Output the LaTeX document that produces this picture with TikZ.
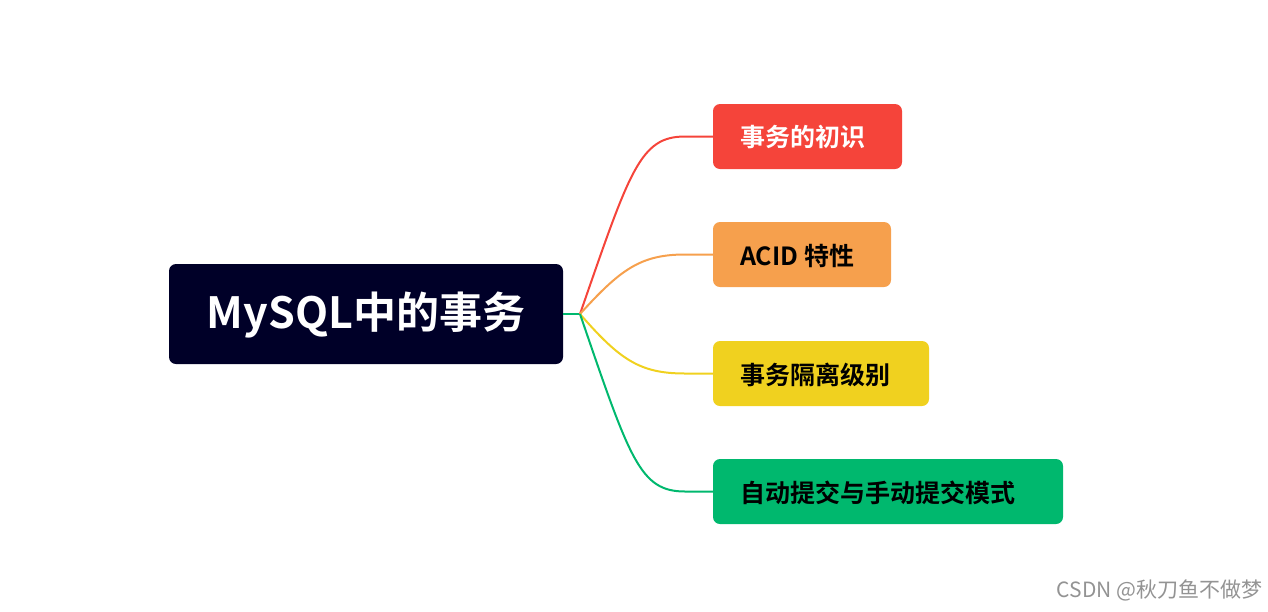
\documentclass[tikz,border=0pt]{standalone}
\usepackage{fontspec}
\setmainfont{Noto Sans CJK SC}
\newfontfamily\cjkb{Noto Sans CJK SC Bold}
\definecolor{navy}{HTML}{000028}
\definecolor{cred}{HTML}{F5443A}
\definecolor{corange}{HTML}{F6A04D}
\definecolor{cyellow}{HTML}{F0D11F}
\definecolor{cgreen}{HTML}{00B86E}
\begin{document}
\begin{tikzpicture}[x=1pt,y=-1pt,
  lbl/.style={inner sep=0pt,font=\cjkb\fontsize{25}{28}\selectfont,anchor=west},
  conn/.style={line width=2pt}]
\useasboundingbox (0,0) rectangle (1268,611);
\fill[navy,rounded corners=7pt] (169,264) rectangle (563,364);
\node[font=\cjkb\fontsize{43}{48}\selectfont,text=white] (root) at (366,315) {MySQL中的事务};
\coordinate (re) at (563,314);
\coordinate (j) at (580,314);
\fill[cred,rounded corners=7pt] (713,104) rectangle (902,169);
\node[lbl,text=white] (a) at (740,137) {事务的初识};
\fill[corange,rounded corners=7pt] (713,222) rectangle (891,287);
\node[lbl] (b) at (740,256) {ACID 特性};
\fill[cyellow,rounded corners=7pt] (713,341) rectangle (929,406);
\node[lbl] (c) at (740,375) {事务隔离级别};
\fill[cgreen,rounded corners=7pt] (713,459) rectangle (1063,524);
\node[lbl] (d) at (740,493) {自动提交与手动提交模式};
\coordinate (ae) at (713,136.5);
\coordinate (be) at (713,254.5);
\coordinate (ce) at (713,373.5);
\coordinate (de) at (713,491.5);
\draw[conn,cgreen] (re) -- (j);
\draw[conn,cred] (j) .. controls (630,170) and (640,136.5) .. (685,136.5) -- (ae);
\draw[conn,corange] (j) .. controls (620,270) and (640,254.5) .. (685,254.5) -- (be);
\draw[conn,cyellow] (j) .. controls (620,360) and (640,373.5) .. (685,373.5) -- (ce);
\draw[conn,cgreen] (j) .. controls (630,460) and (640,491.5) .. (685,491.5) -- (de);
\node[anchor=east,text=gray!85,font=\fontsize{21}{24}\selectfont] (wm) at (1266,590) {CSDN @秋刀鱼不做梦};
\end{tikzpicture}
\end{document}
